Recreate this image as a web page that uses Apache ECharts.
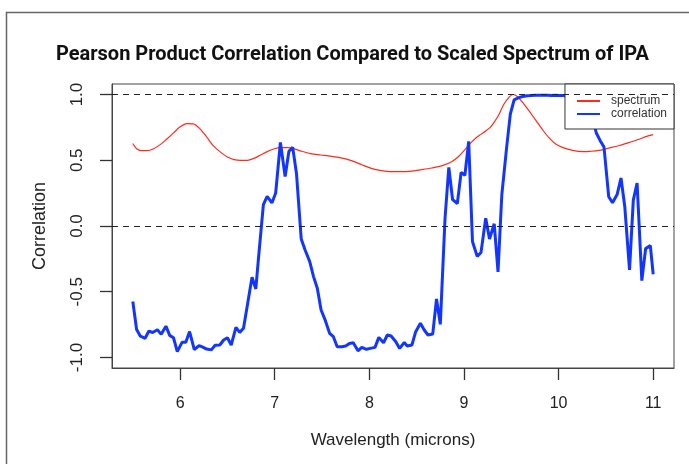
<!DOCTYPE html>
<html>
<head>
<meta charset="utf-8">
<script src="https://cdn.jsdelivr.net/npm/echarts@6/dist/echarts.min.js"></script>
<style>html,body{margin:0;padding:0;background:#fff;}#c{width:689px;height:464px;}</style>
</head>
<body>
<div id="c"></div>
<script>
// Wavelength (microns) and Pearson correlation
const corrWavelength = [5.50,5.54,5.58,5.63,5.67,5.71,5.76,5.80,5.85,5.89,5.93,5.97,6.02,6.06,6.10,6.15,6.20,6.24,6.28,6.33,6.37,6.42,6.46,6.50,6.54,6.59,6.63,6.67,6.72,6.76,6.80,6.83,6.88,6.92,6.97,7.01,7.06,7.11,7.15,7.19,7.23,7.28,7.32,7.37,7.41,7.45,7.49,7.53,7.58,7.62,7.66,7.71,7.75,7.79,7.83,7.88,7.92,7.97,8.01,8.06,8.10,8.15,8.19,8.23,8.28,8.32,8.37,8.40,8.45,8.49,8.54,8.58,8.62,8.67,8.71,8.75,8.80,8.84,8.88,8.93,8.97,9.01,9.05,9.09,9.14,9.18,9.23,9.27,9.32,9.36,9.40,9.45,9.49,9.53,9.58,9.62,9.67,9.71,9.76,9.80,9.84,9.88,9.93,9.97,10.01,10.06,10.11,10.17,10.22,10.27,10.32,10.36,10.40,10.44,10.48,10.53,10.57,10.62,10.66,10.70,10.75,10.79,10.83,10.88,10.92,10.97,11.00];
const correlation = [-0.574,-0.787,-0.838,-0.854,-0.799,-0.810,-0.789,-0.824,-0.762,-0.832,-0.850,-0.955,-0.885,-0.884,-0.803,-0.940,-0.909,-0.921,-0.936,-0.942,-0.907,-0.905,-0.867,-0.850,-0.905,-0.771,-0.809,-0.778,-0.562,-0.389,-0.479,-0.232,0.162,0.225,0.175,0.251,0.636,0.377,0.568,0.598,0.398,-0.098,-0.181,-0.271,-0.385,-0.473,-0.639,-0.710,-0.816,-0.842,-0.918,-0.918,-0.913,-0.893,-0.888,-0.949,-0.923,-0.938,-0.931,-0.923,-0.847,-0.888,-0.829,-0.837,-0.880,-0.931,-0.885,-0.913,-0.905,-0.804,-0.740,-0.791,-0.829,-0.822,-0.555,-0.748,0.059,0.446,0.200,0.171,0.408,0.386,0.644,-0.118,-0.231,-0.202,0.059,-0.099,0.017,-0.349,0.236,0.591,0.851,0.960,0.976,0.985,0.991,0.992,0.994,0.994,0.994,0.994,0.993,0.994,0.992,0.992,0.977,0.973,0.889,0.966,0.870,0.816,0.705,0.649,0.600,0.223,0.177,0.242,0.365,0.146,-0.334,0.197,0.327,-0.415,-0.172,-0.149,-0.367];

// Scaled IPA spectrum
const specWavelength = [5.50,5.54,5.59,5.65,5.72,5.79,5.86,5.93,6.00,6.07,6.14,6.21,6.28,6.35,6.43,6.50,6.57,6.64,6.71,6.78,6.85,6.92,6.99,7.06,7.14,7.21,7.28,7.38,7.49,7.60,7.70,7.81,7.92,8.02,8.13,8.23,8.34,8.45,8.55,8.66,8.77,8.87,8.94,9.01,9.09,9.16,9.23,9.28,9.32,9.37,9.42,9.48,9.52,9.56,9.62,9.69,9.76,9.83,9.90,9.97,10.04,10.15,10.26,10.33,10.43,10.54,10.65,10.75,10.86,10.93,11.00];
const spectrum = [0.627,0.588,0.573,0.573,0.588,0.619,0.662,0.708,0.754,0.779,0.777,0.739,0.678,0.611,0.560,0.525,0.505,0.499,0.499,0.514,0.540,0.566,0.586,0.596,0.596,0.586,0.569,0.550,0.540,0.530,0.518,0.497,0.466,0.438,0.421,0.413,0.413,0.418,0.428,0.441,0.459,0.489,0.527,0.581,0.646,0.688,0.722,0.752,0.790,0.848,0.924,0.982,1.000,0.987,0.941,0.873,0.804,0.733,0.670,0.624,0.598,0.575,0.566,0.568,0.575,0.594,0.614,0.636,0.662,0.682,0.695];

const xTicks = [6, 7, 8, 9, 10, 11];
const yTicks = [-1, -0.5, 0, 0.5, 1];
const refLines = [1, 0];

const pairs = (xs, ys) => xs.map((x, i) => [x, ys[i]]);
const sans = '"Liberation Sans", Arial, sans-serif';
const frameColor = '#444';
const tickColor = '#333';

const chart = echarts.init(document.getElementById('c'), null, {renderer: 'canvas'});
chart.setOption({
  animation: false,
  backgroundColor: '#fff',
  title: {
    text: 'Pearson Product Correlation Compared to Scaled Spectrum of IPA',
    left: 51, top: 40,
    textStyle: {fontFamily: 'Roboto', fontWeight: 'bold', fontSize: 20, color: '#111'}
  },
  graphic: [{
    type: 'rect', silent: true,
    shape: {x: 6.5, y: 12.5, width: 720, height: 520},
    style: {fill: 'none', stroke: '#666', lineWidth: 1.5}
  }],
  legend: {
    right: 15, top: 84, orient: 'vertical',
    backgroundColor: '#fff',
    borderColor: '#333', borderWidth: 1,
    padding: [11, 7, 9, 11],
    itemWidth: 23, itemHeight: 14, itemGap: 1,
    itemStyle: {opacity: 0},
    textStyle: {fontFamily: sans, fontSize: 12, color: '#333', padding: [0, 0, 0, 6]},
    data: ['spectrum', 'correlation']
  },
  grid: {left: 112, top: 84, width: 562, height: 284, show: true, borderColor: frameColor, borderWidth: 1, backgroundColor: 'transparent'},
  xAxis: {
    type: 'value', min: 5.28, max: 11.22,
    name: 'Wavelength (microns)', nameLocation: 'middle', nameGap: 64,
    nameTextStyle: {fontFamily: sans, fontSize: 17, color: '#222'},
    axisLine: {show: true, onZero: false, lineStyle: {color: frameColor}},
    axisTick: {show: true, inside: false, length: 12, customValues: xTicks, lineStyle: {color: tickColor, width: 1.3}},
    axisLabel: {customValues: xTicks, margin: 28, fontFamily: sans, fontSize: 16, color: '#222'},
    splitLine: {show: false}
  },
  yAxis: {
    type: 'value', min: -1.08, max: 1.08,
    name: 'Correlation', nameLocation: 'middle', nameGap: 63,
    nameTextStyle: {fontFamily: sans, fontSize: 18, color: '#222'},
    axisLine: {show: true, onZero: false, lineStyle: {color: frameColor}},
    axisTick: {show: true, inside: false, length: 12, customValues: yTicks, lineStyle: {color: tickColor, width: 1.3}},
    axisLabel: {customValues: yTicks, rotate: 90, margin: 26, fontFamily: sans, fontSize: 17, color: '#222',
      formatter: v => v.toFixed(1)},
    splitLine: {show: false}
  },
  series: [
    {
      name: 'spectrum', type: 'line', data: pairs(specWavelength, spectrum),
      symbol: 'none', smooth: 0.3,
      lineStyle: {color: '#ff2a1a', width: 1.2}, itemStyle: {color: '#ff2a1a'},
      z: 2
    },
    {
      name: 'correlation', type: 'line', data: pairs(corrWavelength, correlation),
      symbol: 'none',
      lineStyle: {color: '#1236ff', width: 3}, itemStyle: {color: '#1236ff'},
      z: 3,
      markLine: {
        silent: true, symbol: 'none', animation: false,
        label: {show: false},
        lineStyle: {color: '#222', type: [6, 5], width: 1},
        data: refLines.map(v => ({yAxis: v}))
      }
    }
  ]
});
</script>
</body>
</html>
